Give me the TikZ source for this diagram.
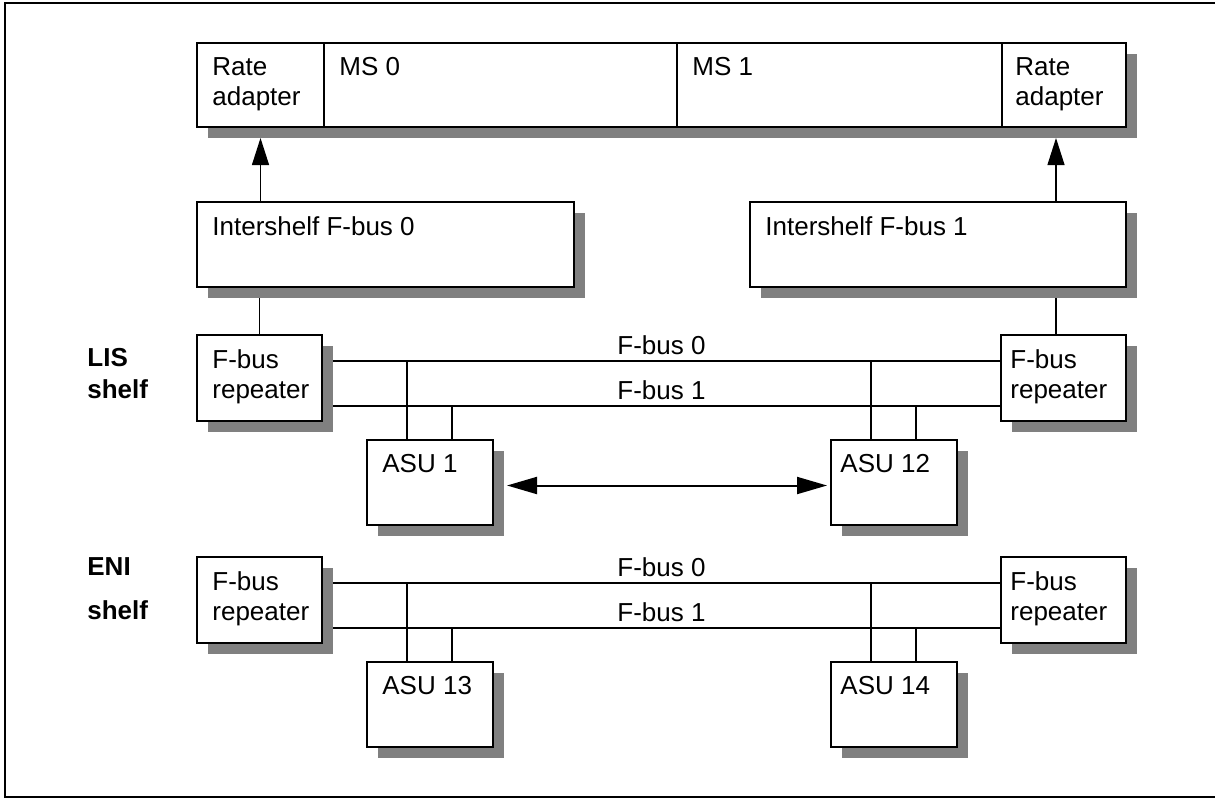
\documentclass[tikz,border=0pt]{standalone}
\usepackage{fontspec}
\setmainfont{Liberation Sans}
\usetikzlibrary{arrows.meta,shadows}
\definecolor{shadowgray}{RGB}{128,128,128}
\tikzset{
  box/.style={draw, line width=0.7pt, fill=white, rectangle, anchor=north west,
    inner sep=0pt, outer sep=0pt,
    drop shadow={shadow xshift=5.5pt, shadow yshift=-5.5pt, fill=shadowgray, opacity=1}},
  txt/.style={anchor=north west, align=left, inner sep=0pt, xshift=#1, yshift=-7pt},
  txt/.default=7.5pt,
  shelf/.style={anchor=north west, align=left, inner sep=0pt,
    font=\fontsize{13}{#1}\selectfont\bfseries},
  bus/.style={line width=0.6pt},
  feed/.style={-{Triangle[length=13.5pt,width=8.5pt]}, line width=0.6pt},
  link/.style={{Triangle[length=15pt,width=8.5pt]}-{Triangle[length=15pt,width=8.5pt]}, line width=1pt},
}
\begin{document}
\begin{tikzpicture}[x=0.5pt, y=-0.5pt,
    every node/.style={font=\fontsize{13}{15}\selectfont}]
    \useasboundingbox (0,0) rectangle (1215,798);
    % frame
    \draw[line width=1pt] (1215,3) -- (5,3) -- (5,797) -- (1215,797);
    % message switch strip
    \node[box, minimum width=63.5pt, minimum height=42pt,
          label={[txt]north west:{Rate\\adapter}}] (ra0) at (197,43) {};
    \node[box, minimum width=176.5pt, minimum height=42pt,
          label={[txt]north west:MS 0}] (ms0) at (ra0.north east) {};
    \node[box, minimum width=162.5pt, minimum height=42pt,
          label={[txt]north west:MS 1}] (ms1) at (ms0.north east) {};
    \node[box, minimum width=62pt, minimum height=42pt,
          label={[txt=6.5pt]north west:{Rate\\adapter}}] (ra1) at (ms1.north east) {};
    % intershelf buses
    \node[box, minimum width=188.5pt, minimum height=42.5pt,
          label={[txt]north west:Intershelf F-bus 0}] (is0) at (197,202) {};
    \node[box, minimum width=188pt, minimum height=42.5pt,
          label={[txt]north west:Intershelf F-bus 1}] (is1) at (750,202) {};
    \coordinate (riser1) at ([xshift=-35pt]is1.north east);
    \draw[feed, shorten >=5.5pt] (is0.north -| ra0.south) -- (ra0.south);
    \draw[feed, shorten >=5.5pt] (is1.north -| riser1) -- (ra1.south -| riser1);
    % shelves
    \foreach \s/\dy/\shelfname/\ly/\lsp/\na/\nb in
        {lis/0/LIS/348/16pt/1/12, eni/222/ENI/335/22pt/13/14} {
        \begin{scope}[shift={(0,\dy)}]
            \node[box, minimum width=62.5pt, minimum height=43pt,
                  label={[txt]north west:{F-bus\\repeater}}] (\s L) at (197,335) {};
            \node[box, minimum width=62.5pt, minimum height=43pt,
                  label={[txt=4.5pt]north west:{F-bus\\repeater}}] (\s R) at (1001,335) {};
            \node[box, minimum width=63pt, minimum height=42.5pt,
                  label={[txt]north west:ASU \na}] (\s A) at (367,440) {};
            \node[box, minimum width=63pt, minimum height=42.5pt,
                  label={[txt=4.5pt]north west:ASU \nb}] (\s B) at (831,440) {};
            \node[shelf=\lsp] (\s lbl) at (87,\ly) {\shelfname\\shelf};
        \end{scope}
        % the two F-buses of the shelf
        \draw[bus, shorten <=5.5pt] ([yshift=-13pt]\s L.north east) coordinate (\s b0)
            -- ([yshift=-13pt]\s R.north west)
            node[midway, above, inner sep=3pt] (\s f0) {F-bus 0};
        \draw[bus, shorten <=5.5pt] ([yshift=-35.5pt]\s L.north east) coordinate (\s b1)
            -- ([yshift=-35.5pt]\s R.north west)
            node[midway, above, inner sep=3pt] (\s f1) {F-bus 1};
        % taps down to the ASUs
        \foreach \u in {A,B} {
            \draw[bus] ([xshift=20pt]\s\u.north west) coordinate (\s\u t0) -- (\s\u t0 |- \s b0);
            \draw[bus] ([xshift=42.5pt]\s\u.north west) coordinate (\s\u t1) -- (\s\u t1 |- \s b1);
        }
    }
    % risers to the LIS repeaters
    \draw[bus, shorten <=5.5pt] (is0.south -| lisL.north) -- (lisL.north);
    \draw[bus, shorten <=5.5pt] (is1.south -| riser1) -- (lisR.north -| riser1);
    % ASU to ASU
    \draw[link] ([xshift=7pt, yshift=-1.5pt]lisA.east) -- ([xshift=-2pt, yshift=-1.5pt]lisB.west);
\end{tikzpicture}
\end{document}
